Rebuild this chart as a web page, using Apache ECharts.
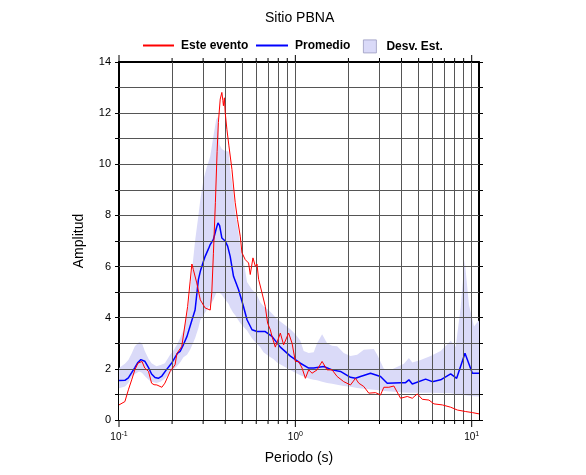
<!DOCTYPE html>
<html><head><meta charset="utf-8">
<script src="https://cdn.jsdelivr.net/npm/echarts@6/dist/echarts.min.js"></script>
<style>html,body{margin:0;padding:0;background:#fff}#c{width:586px;height:475px}</style>
</head><body><div id="c"></div>
<script>
// ---- data ----
const periodBand = [0.1,0.108,0.113,0.118,0.123,0.13,0.135,0.14,0.147,0.153,0.163,0.172,0.182,0.195,0.205,0.213,0.222,0.232,0.243,0.253,0.259,0.27,0.282,0.289,0.301,0.315,0.329,0.343,0.356,0.364,0.372,0.383,0.40,0.418,0.427,0.443,0.456,0.47,0.487,0.508,0.532,0.567,0.60,0.632,0.66,0.705,0.753,0.787,0.858,0.937,1.0,1.068,1.115,1.19,1.271,1.328,1.418,1.514,1.616,1.726,1.881,2.054,2.242,2.444,2.786,2.912,3.175,3.466,4.126,4.403,4.604,5.132,5.848,6.668,7.598,8.111,8.659,9.12,9.65,10.31,11.0];
const bandUpper = [2.03,2.2,2.35,2.6,2.88,3.05,3.0,2.7,2.4,2.22,2.1,2.15,2.22,2.55,2.75,2.94,3.2,3.5,4.1,4.9,5.8,7.0,8.0,8.6,9.4,9.9,10.3,11.1,11.76,11.85,10.75,10.6,10.52,10.5,9.8,9.0,8.1,7.6,6.8,6.27,5.4,5.1,4.95,4.6,4.45,4.3,4.1,3.95,3.75,3.55,3.35,3.1,2.7,2.62,2.65,3.0,3.35,3.0,2.9,2.88,2.62,2.5,2.55,2.75,2.78,2.55,2.0,1.96,2.2,2.42,2.25,2.35,2.5,2.7,3.1,2.85,4.4,6.27,4.5,3.66,3.9];
const bandLower = [1.24,1.31,1.45,1.7,1.8,1.9,1.85,1.72,1.57,1.5,1.45,1.5,1.62,1.85,2.0,2.1,2.25,2.45,2.55,2.75,2.9,3.2,3.6,3.9,4.1,4.31,4.5,4.7,4.97,5.0,4.98,4.9,4.7,4.55,4.4,4.2,4.1,3.95,3.79,3.65,3.5,3.2,3.0,2.85,2.65,2.5,2.38,2.25,2.1,1.96,1.85,1.75,1.7,1.62,1.57,1.55,1.5,1.45,1.42,1.38,1.33,1.3,1.25,1.22,1.18,1.17,1.13,1.11,1.08,1.07,1.07,1.07,1.07,1.06,1.05,1.02,0.98,0.97,0.95,0.93,0.92];

const periodMean = [0.1,0.108,0.113,0.118,0.123,0.128,0.133,0.136,0.14,0.147,0.153,0.16,0.167,0.175,0.185,0.2,0.214,0.222,0.232,0.243,0.259,0.27,0.277,0.282,0.29,0.301,0.308,0.322,0.329,0.343,0.355,0.364,0.372,0.383,0.40,0.413,0.427,0.446,0.476,0.508,0.532,0.568,0.606,0.675,0.737,0.822,0.937,1.068,1.19,1.271,1.448,1.616,1.802,2.054,2.193,2.34,2.668,3.041,3.319,3.951,4.217,4.403,4.604,5.479,5.981,6.668,7.598,8.217,9.16,10.09,11.0];
const meanAmp = [1.54,1.55,1.65,1.85,2.05,2.25,2.36,2.38,2.3,2.05,1.8,1.66,1.63,1.72,1.95,2.25,2.6,2.68,2.95,3.27,3.9,4.3,5.0,5.49,5.85,6.2,6.4,6.7,6.86,7.06,7.45,7.71,7.6,7.12,7.0,6.8,6.4,5.62,5.1,4.44,3.92,3.53,3.46,3.46,3.27,2.85,2.5,2.22,2.03,2.03,2.09,1.96,1.9,1.67,1.63,1.7,1.83,1.7,1.44,1.46,1.46,1.57,1.41,1.6,1.5,1.57,1.8,1.63,2.61,1.83,1.83];

const periodEvent = [0.1,0.108,0.113,0.118,0.123,0.128,0.135,0.14,0.147,0.153,0.158,0.164,0.175,0.182,0.195,0.208,0.213,0.227,0.245,0.253,0.259,0.264,0.276,0.289,0.308,0.315,0.329,0.336,0.343,0.352,0.36,0.366,0.375,0.383,0.388,0.391,0.396,0.40,0.409,0.42,0.437,0.446,0.456,0.47,0.487,0.498,0.52,0.532,0.543,0.555,0.575,0.593,0.606,0.619,0.647,0.675,0.696,0.721,0.737,0.77,0.822,0.858,0.916,0.958,1.0,1.044,1.092,1.14,1.19,1.244,1.328,1.418,1.514,1.616,1.726,1.881,2.054,2.193,2.289,2.444,2.609,2.848,3.041,3.175,3.389,3.619,3.951,4.312,4.604,4.915,5.247,5.722,6.107,6.817,7.598,8.294,9.245,10.09,11.0];
const eventAmp = [0.59,0.72,1.18,1.57,1.96,2.22,2.29,2.03,1.9,1.44,1.38,1.37,1.28,1.44,1.9,2.16,2.6,2.88,4.44,5.4,6.1,5.88,5.36,4.7,4.38,4.4,4.3,5.0,6.5,8.5,10.5,11.63,12.55,12.81,12.5,12.29,12.6,12.03,11.37,10.72,9.8,9.15,8.5,7.84,7.19,6.54,6.27,6.34,6.14,5.69,6.34,6.01,6.1,5.5,4.97,4.45,3.79,3.53,3.27,2.85,3.4,2.94,3.4,3.0,2.29,2.29,2.03,1.63,1.96,1.83,1.96,2.29,1.96,1.96,1.7,1.5,1.37,1.63,1.44,1.31,1.05,1.07,0.98,1.28,1.28,1.33,0.85,0.92,0.85,1.02,0.81,0.78,0.63,0.59,0.5,0.39,0.33,0.29,0.24];

const xTickVals = [0.1,0.2,0.3,0.4,0.5,0.6,0.7,0.8,0.9,1,2,3,4,5,6,7,8,9,10];
const xTickMajor = [1,0,0,0,0,0,0,0,0,1,0,0,0,0,0,0,0,0,1];
const xGridLines = [0.2,0.3,0.4,0.5,0.6,0.7,0.8,0.9,1,2,3,4,5,6,7,8,9,10];
const yGridLines = [1,2,3,4,5,6,7,8,9,10,11,12,13];
const yLabelVals = [0,2,4,6,8,10,12,14];
const xLabelMap = {"0.1":"-1","1":"0","10":"1"};

const FONT = "'Liberation Sans', Arial, Helvetica, sans-serif";
const zip = (a,b) => a.map((v,i)=>[v,b[i]]);

const chart = echarts.init(document.getElementById('c'), null, {renderer:'canvas'});
const gridMarks = {
  silent: true, symbol: ['none','none'], label:{show:false},
  lineStyle: {color:'#555', width:1, type:'solid'},
  emphasis:{disabled:true},
  data: xGridLines.map(v=>({xAxis:v})).concat(yGridLines.map(v=>({yAxis:v})))
};
chart.setOption({
  animation:false,
  backgroundColor:'#fff',
  title:{text:'Sitio PBNA', left:265, top:11, padding:0,
    textStyle:{fontFamily:FONT, fontSize:14, fontWeight:'normal', color:'#000'}},
  legend:[
    {data:[{name:'Este evento', icon:'rect', itemStyle:{color:'#ff0000'}}], left:143, top:39.5, padding:0, itemWidth:31, itemHeight:2,
     textStyle:{fontFamily:FONT, fontSize:12, fontWeight:'bold', color:'#000', padding:[0,0,0,2]}, selectedMode:false},
    {data:[{name:'Promedio', icon:'rect', itemStyle:{color:'#0000ff'}}], left:256, top:39.5, padding:0, itemWidth:32, itemHeight:2,
     textStyle:{fontFamily:FONT, fontSize:12, fontWeight:'bold', color:'#000', padding:[0,0,0,2]}, selectedMode:false},
    {data:[{name:'Desv. Est.', icon:'rect', itemStyle:{color:'#dadaf8', borderColor:'#9a9ac0', borderWidth:0.8}}], left:363, top:39.5, padding:0, itemWidth:13, itemHeight:13,
     textStyle:{fontFamily:FONT, fontSize:12, fontWeight:'bold', color:'#000', padding:[0,0,0,5]}, selectedMode:false}
  ],
  grid:{left:119, right:107, top:62, bottom:55, containLabel:false},
  xAxis:[
    {type:'log', logBase:10, min:0.1, max:11, position:'bottom',
     name:'Periodo (s)', nameLocation:'middle', nameGap:31,
     nameTextStyle:{fontFamily:FONT, fontSize:14, color:'#000'},
     axisLine:{show:true, onZero:false, lineStyle:{color:'#000', width:2}},
     axisTick:{show:false}, splitLine:{show:false}, minorTick:{show:false},
     axisLabel:{margin:11, color:'#000', showMaxLabel:false,
       formatter:(v)=>{const k = xLabelMap[String(+v.toPrecision(6))]; return k===undefined ? '' : '{b|10}{s|'+k+'}';},
       rich:{b:{fontFamily:FONT, fontSize:10, color:'#000'}, s:{fontFamily:FONT, fontSize:7, color:'#000', padding:[0,0,6,0]}}}},
    {type:'log', logBase:10, min:0.1, max:11, position:'top',
     axisLine:{show:true, onZero:false, lineStyle:{color:'#000', width:2}},
     axisTick:{show:false}, axisLabel:{show:false}, splitLine:{show:false}}
  ],
  yAxis:[
    {type:'value', min:0, max:14, interval:1, position:'left',
     name:'Amplitud', nameLocation:'middle', nameGap:33, nameRotate:90,
     nameTextStyle:{fontFamily:FONT, fontSize:14, color:'#000'},
     axisLine:{show:true, onZero:false, lineStyle:{color:'#000', width:2}},
     axisTick:{show:true, length:4, lineStyle:{color:'#000', width:1}},
     splitLine:{show:false},
     axisLabel:{margin:8, fontFamily:FONT, fontSize:11, color:'#000',
       formatter:(v)=> yLabelVals.indexOf(v)>=0 ? String(v) : ''}},
    {type:'value', min:0, max:14, interval:1, position:'right',
     axisLine:{show:true, onZero:false, lineStyle:{color:'#000', width:2}},
     axisTick:{show:true, length:4, lineStyle:{color:'#000', width:1}},
     axisLabel:{show:false}, splitLine:{show:false}}
  ],
  series:[
    {name:'Desv. Est.', type:'line', data:zip(periodBand, bandUpper), symbol:'none', silent:true, z:1,
     lineStyle:{width:0, opacity:0}, itemStyle:{color:'#dadaf8'},
     areaStyle:{color:'#dadaf8', opacity:1, origin:'start'}},
    {name:'bandLower', type:'line', data:zip(periodBand, bandLower), symbol:'none', silent:true, z:1,
     lineStyle:{width:0, opacity:0}, areaStyle:{color:'#ffffff', opacity:1, origin:'start'}},
    {name:'grid', type:'line', data:[], z:3, silent:true, markLine:gridMarks},
    {name:'Promedio', type:'line', data:zip(periodMean, meanAmp), symbol:'none', z:4,
     lineStyle:{color:'#0000ff', width:1.5}, itemStyle:{color:'#0000ff'}},
    {name:'Este evento', type:'line', data:zip(periodEvent, eventAmp), symbol:'none', z:5,
     lineStyle:{color:'#ff0000', width:1}, itemStyle:{color:'#ff0000'}},
    {name:'xticks', type:'custom', coordinateSystem:'cartesian2d', clip:false, silent:true, z:6,
     data: xTickVals.map((t,i)=>[t, xTickMajor[i]]),
     encode:{x:0, y:1},
     renderItem:(params, api)=>{
       const t = api.value(0), major = api.value(1);
       const pb = api.coord([t, 0]), pt = api.coord([t, 14]);
       const len = major ? 6 : 3;
       return {type:'group', children:[
         {type:'line', shape:{x1:pb[0], y1:pb[1]+1, x2:pb[0], y2:pb[1]+1+len}, style:{stroke:'#000', lineWidth:1}},
         {type:'line', shape:{x1:pt[0], y1:pt[1]-1, x2:pt[0], y2:pt[1]-1-len}, style:{stroke:'#000', lineWidth:1}}
       ]};
     }}
  ]
});
</script></body></html>
